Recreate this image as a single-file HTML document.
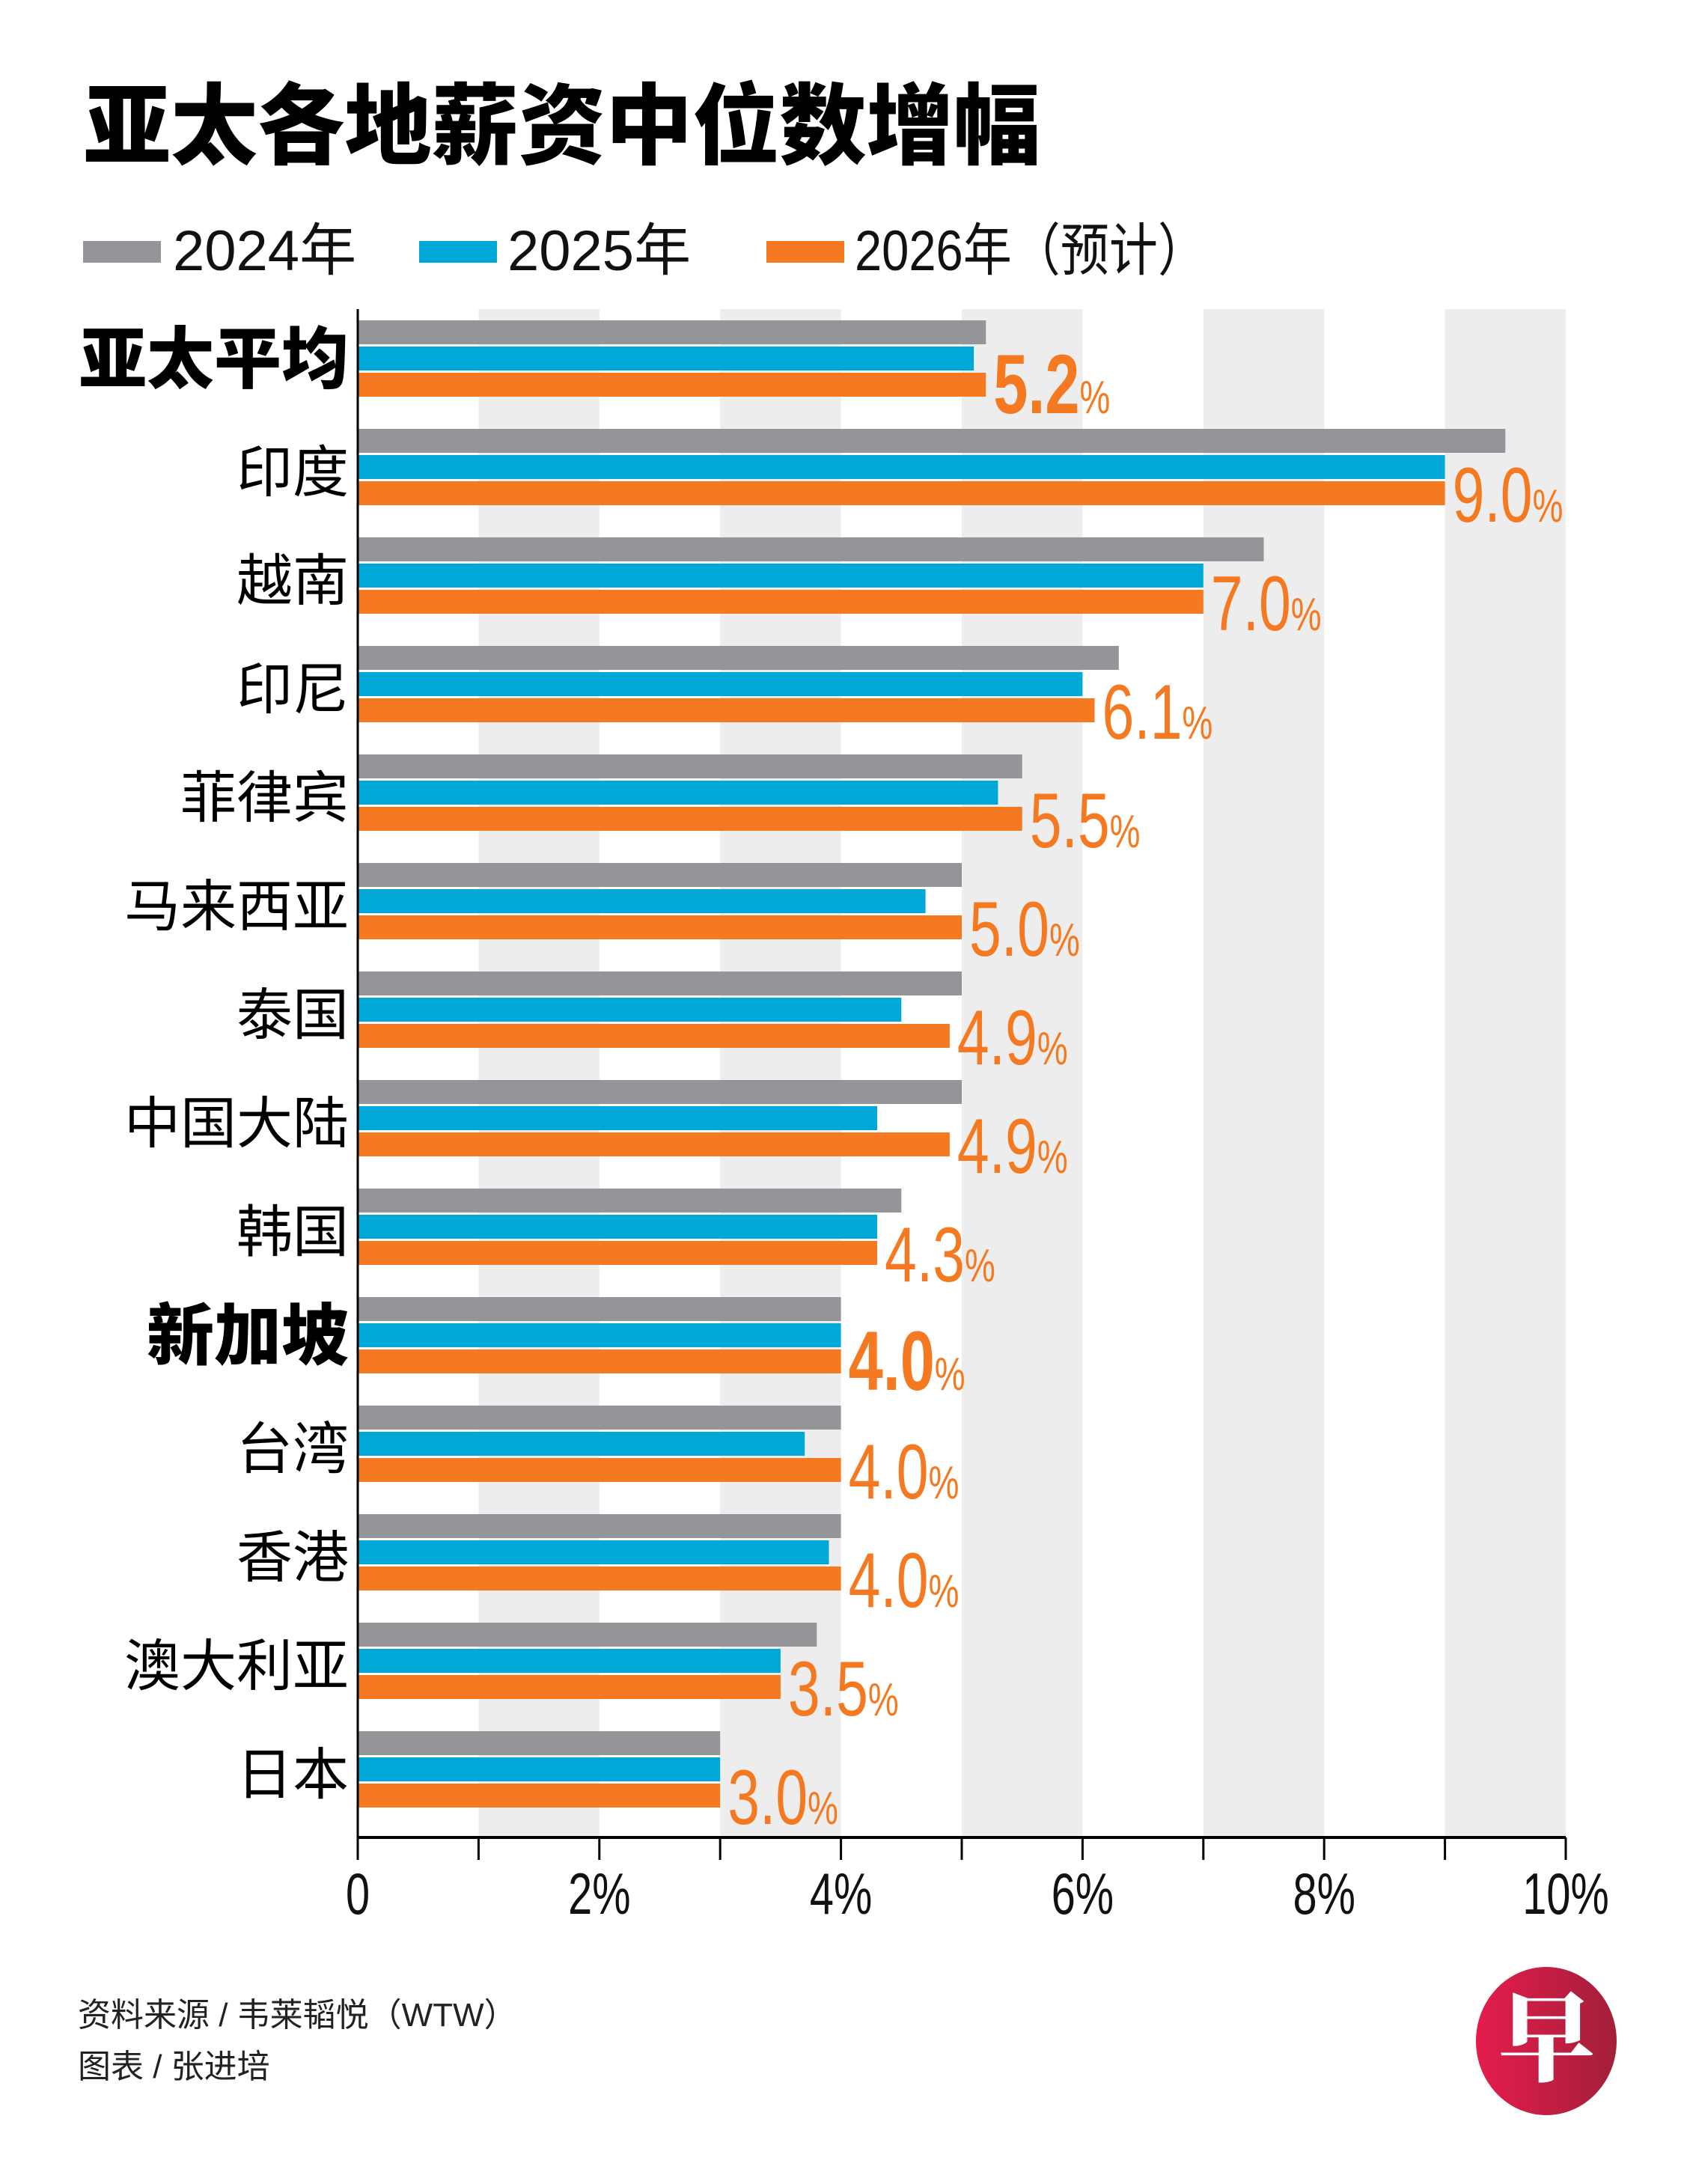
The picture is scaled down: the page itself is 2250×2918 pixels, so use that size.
<!DOCTYPE html>
<html><head><meta charset="utf-8"><style>
html,body{margin:0;padding:0;background:#fff;}
svg{display:block;}
</style></head><body>
<svg id="chart" width="2250" height="2918" viewBox="0 0 2250 2918" xmlns="http://www.w3.org/2000/svg">
<text x="112" y="210" font-family="'Liberation Sans','Noto Sans CJK SC',sans-serif" font-weight="900" font-size="118" fill="#000" textLength="1278" lengthAdjust="spacingAndGlyphs">亚太各地薪资中位数增幅</text>
<g font-family="'Liberation Sans','Noto Sans CJK SC',sans-serif" font-size="76" fill="#111">
<rect x="111" y="322" width="104" height="29" fill="#939598"/>
<text x="231" y="361">2024年</text>
<rect x="560" y="322" width="104" height="29" fill="#00a8d8"/>
<text x="678" y="361">2025年</text>
<rect x="1024" y="322" width="104" height="29" fill="#f47920"/>
<text x="1142" y="361" textLength="470" lengthAdjust="spacingAndGlyphs">2026年（预计）</text>
</g>
<g id="plot"></g>
<text x="104" y="2707" font-family="'Liberation Sans','Noto Sans CJK SC',sans-serif" font-size="44" fill="#222">资料来源 / 韦莱韬悦（WTW）</text>
<text x="104" y="2776" font-family="'Liberation Sans','Noto Sans CJK SC',sans-serif" font-size="44" fill="#222">图表 / 张进培</text>
<defs><linearGradient id="lg" x1="0" y1="0" x2="1" y2="0"><stop offset="0" stop-color="#e51c4c"/><stop offset="1" stop-color="#a31f3a"/></linearGradient></defs>
<g>
<ellipse cx="2066" cy="2727" rx="94" ry="99" fill="url(#lg)"/>
<text x="2066" y="2770" text-anchor="middle" font-family="'Noto Serif CJK SC',serif" font-weight="900" font-size="130" fill="#fff">早</text>
</g>
</svg>
<script>
const categories = ['亚太平均','印度','越南','印尼','菲律宾','马来西亚','泰国','中国大陆','韩国','新加坡','台湾','香港','澳大利亚','日本'];
const values2024 = [5.2,9.5,7.5,6.3,5.5,5.0,5.0,5.0,4.5,4.0,4.0,4.0,3.8,3.0];
const values2025 = [5.1,9.0,7.0,6.0,5.3,4.7,4.5,4.3,4.3,4.0,3.7,3.9,3.5,3.0];
const values2026 = [5.2,9.0,7.0,6.1,5.5,5.0,4.9,4.9,4.3,4.0,4.0,4.0,3.5,3.0];
const boldCats = ['亚太平均','新加坡'];
const tickLabels = ['0','2%','4%','6%','8%','10%'];
const tickValues = [0,2,4,6,8,10];

const NS='http://www.w3.org/2000/svg';
const X0=478, PX=161.4, TOP0=428, STEP=145, AXY=2455, PTOP=413;
const xs=v=>X0+v*PX;
const yg=i=>TOP0+i*STEP;
const plot=document.getElementById('plot');
function mk(tag,attrs,parent){const e=document.createElementNS(NS,tag);for(const k in attrs)e.setAttribute(k,attrs[k]);(parent||plot).appendChild(e);return e;}
for(let k=1;k<10;k+=2){
  const r=mk('rect',{x:xs(k),y:PTOP,width:PX,height:AXY-PTOP,fill:'#ededed'});
  
  
}
const series=[[values2024,'#939598','2024'],[values2025,'#00a8d8','2025'],[values2026,'#f47920','2026']];
const FF="'Liberation Sans','Noto Sans CJK SC',sans-serif";
categories.forEach((c,i)=>{
  const t=yg(i);
  series.forEach(([arr,col,yr],j)=>{
    const b=mk('rect',{x:X0,y:t+j*35,width:xs(arr[i])-X0,height:32,fill:col});
    
    
  });
  const bold=boldCats.includes(c);
  const lab=mk('text',{x:466,y:t+(bold?83:84),'text-anchor':'end','font-family':FF,'font-size':bold?90:75,'font-weight':bold?'900':'400',fill:'#000'});
  lab.textContent=c;
  
  
  const vx=xs(values2026[i])+10, by=t+124;
  const g=mk('g',{transform:'translate('+vx+','+by+') scale(0.74,1)'});
  
  
  const vt=mk('text',{x:0,y:0,'font-family':FF,'font-size':bold?112:104,'font-weight':bold?'700':'400',fill:'#f47920'},g);
  vt.textContent=values2026[i].toFixed(1);
  const ps=mk('tspan',{'font-size':62,'font-weight':'400'},vt);
  ps.textContent='%';
});
const ya=mk('line',{x1:X0,y1:PTOP,x2:X0,y2:AXY,stroke:'#000','stroke-width':3});


const xa=mk('line',{x1:X0,y1:AXY,x2:xs(10),y2:AXY,stroke:'#000','stroke-width':4});


for(let k=0;k<=10;k++){
  const tk=mk('line',{x1:xs(k),y1:AXY,x2:xs(k),y2:AXY+30,stroke:'#000','stroke-width':3});
  
  
}
tickValues.forEach((v,i)=>{
  const g=mk('g',{transform:'translate('+xs(v)+',2557) scale(0.74,1)'});
  
  
  const t=mk('text',{x:0,y:0,'text-anchor':'middle','font-family':FF,'font-size':78,fill:'#111'},g);
  t.textContent=tickLabels[i];
});
</script>
</body></html>
